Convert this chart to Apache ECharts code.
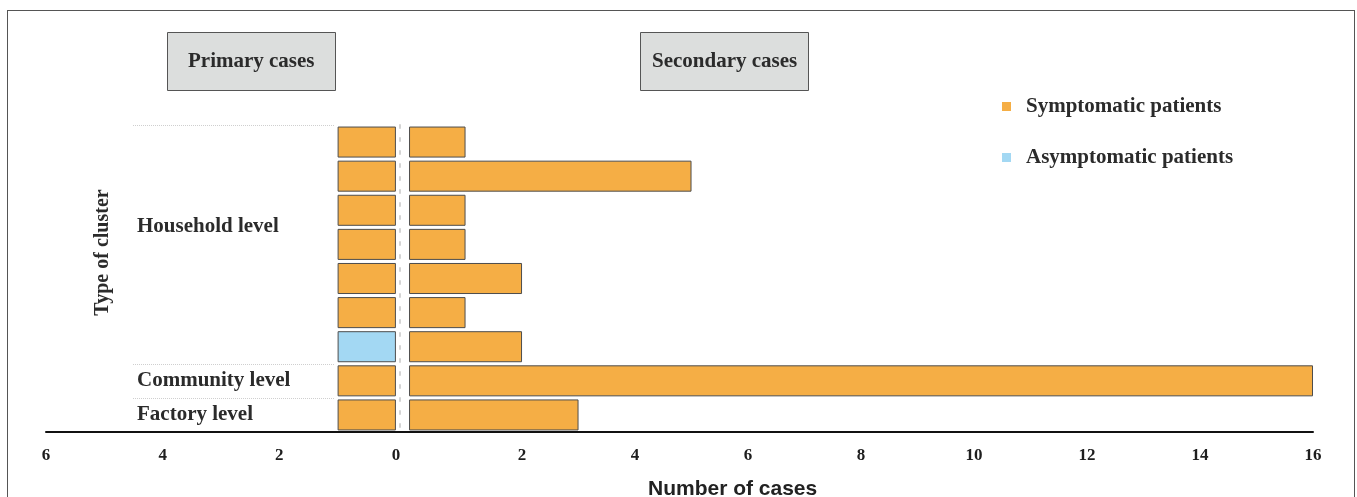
<!DOCTYPE html>
<html>
<head>
<meta charset="utf-8">
<script src="https://cdn.jsdelivr.net/npm/echarts@6/dist/echarts.min.js"></script>
<style>
  html, body { margin: 0; padding: 0; background: #fff; }
  #frame { position: absolute; left: 7px; top: 10px; width: 1346px; height: 520px; border: 1px solid #555; }
  #chart { position: absolute; left: 0; top: 0; width: 1357px; height: 497px; }
</style>
</head>
<body>
<div id="frame"></div>
<div id="chart"></div>
<script>
// rows top to bottom: 7 household clusters, 1 community, 1 factory
const clusterRows = ["Household 1", "Household 2", "Household 3", "Household 4", "Household 5", "Household 6", "Household 7", "Community 1", "Factory 1"];
const rowLabels = { 3: "Household level", 7: "Community level", 8: "Factory level" };
const groupBreaks = [0, 7, 8];

const primarySymptomatic = [1, 1, 1, 1, 1, 1, null, 1, 1];
const primaryAsymptomatic = [null, null, null, null, null, null, 1, null, null];
const secondarySymptomatic = [1, 5, 1, 1, 2, 1, 2, 16, 3];

const primaryTicks = [0, 2, 4, 6];
const secondaryTicks = [2, 4, 6, 8, 10, 12, 14, 16];

document.addEventListener("DOMContentLoaded", function () {
  const chart = echarts.init(document.getElementById("chart"));
  const serif = "'Liberation Serif', 'Times New Roman', serif";
  const orange = "#F5AE45";
  const blue = "#A3D8F3";
  const edge = "#4d4d4d";
  const ink = "#2b2b2b";

  const tickLabel = { fontFamily: serif, fontWeight: "bold", fontSize: 17, color: "#1e1e1e", margin: 15 };
  const boxTitle = {
    top: 32,
    backgroundColor: "#dcdedd",
    borderColor: "#555",
    borderWidth: 1,
    textStyle: { fontFamily: serif, fontWeight: "bold", fontSize: 21, color: ink }
  };

  const option = {
    animation: false,
    title: [
      Object.assign({ text: "Primary cases", left: 167, padding: [19, 21] }, boxTitle),
      Object.assign({ text: "Secondary cases", left: 640, padding: [19, 12] }, boxTitle),
      {
        text: "Number of cases",
        left: 648,
        top: 479,
        padding: 0,
        textStyle: { fontFamily: "'Liberation Sans', Arial, sans-serif", fontWeight: "bold", fontSize: 21, color: "#222" }
      }
    ],
    legend: {
      orient: "vertical",
      left: 997,
      top: 91,
      itemGap: 30,
      itemWidth: 9,
      itemHeight: 9,
      icon: "rect",
      itemStyle: { borderWidth: 0 },
      data: ["Symptomatic patients", "Asymptomatic patients"],
      textStyle: { fontFamily: serif, fontWeight: "bold", fontSize: 21, color: ink, padding: [0, 0, 0, 10] }
    },
    grid: [
      { left: 46, width: 354, top: 125, bottom: 65 },
      { left: 400, width: 913, top: 125, bottom: 65 },
      { left: 133, width: 202, top: 125, bottom: 65 }
    ],
    xAxis: [
      {
        gridIndex: 0, type: "value", inverse: true, min: -0.07, max: 6,
        axisLine: { show: true, lineStyle: { color: "#111", width: 2 } },
        axisTick: { show: false },
        splitLine: { show: false },
        axisLabel: Object.assign({ customValues: primaryTicks }, tickLabel)
      },
      {
        gridIndex: 1, type: "value", min: -0.16, max: 16,
        axisLine: { show: true, lineStyle: { color: "#111", width: 2 } },
        axisTick: { show: false },
        splitLine: { show: false },
        axisLabel: Object.assign({ customValues: secondaryTicks }, tickLabel)
      },
      { gridIndex: 2, type: "value", show: false }
    ],
    yAxis: [
      {
        gridIndex: 0, type: "category", data: clusterRows, inverse: true, position: "right",
        axisLine: { show: true, onZero: false, lineStyle: { color: "#d4d4d4", width: 2, type: [3, 10] } },
        axisTick: { show: false },
        axisLabel: { show: false }
      },
      { gridIndex: 1, type: "category", data: clusterRows, inverse: true, show: false },
      {
        gridIndex: 2, type: "category", data: clusterRows, inverse: true,
        axisLine: { show: false },
        axisTick: { show: false },
        name: "Type of cluster",
        nameLocation: "middle",
        nameGap: 20,
        nameTextStyle: { fontFamily: serif, fontWeight: "bold", fontSize: 20, color: ink, padding: [0, 0, 0, 52] },
        splitLine: {
          show: true,
          interval: function (index) { return groupBreaks.indexOf(index) >= 0; },
          lineStyle: { color: "#cfcfcf", width: 1, type: [1, 1] }
        },
        axisLabel: {
          inside: true,
          interval: 0,
          margin: 4,
          fontFamily: serif, fontWeight: "bold", fontSize: 21, color: ink,
          formatter: function (value, index) {
            const text = rowLabels[index];
            if (!text) return "";
            return index === 3 ? "{up|" + text + "}" : text;
          },
          rich: {
            up: { fontFamily: serif, fontWeight: "bold", fontSize: 21, color: ink, padding: [0, 0, 36, 0] }
          }
        }
      }
    ],
    series: [
      {
        name: "Symptomatic patients", type: "bar", stack: "primary",
        xAxisIndex: 0, yAxisIndex: 0, barCategoryGap: "9%",
        itemStyle: { color: orange, borderColor: edge, borderWidth: 1 },
        data: primarySymptomatic
      },
      {
        name: "Asymptomatic patients", type: "bar", stack: "primary",
        xAxisIndex: 0, yAxisIndex: 0, barCategoryGap: "9%",
        itemStyle: { color: blue, borderColor: edge, borderWidth: 1 },
        data: primaryAsymptomatic
      },
      {
        name: "Symptomatic patients", type: "bar",
        xAxisIndex: 1, yAxisIndex: 1, barCategoryGap: "9%",
        itemStyle: { color: orange, borderColor: edge, borderWidth: 1 },
        data: secondarySymptomatic
      }
    ]
  };
  chart.setOption(option);
  window.addEventListener("resize", function () {
    chart.resize();
  });
});
</script>
</body>
</html>
